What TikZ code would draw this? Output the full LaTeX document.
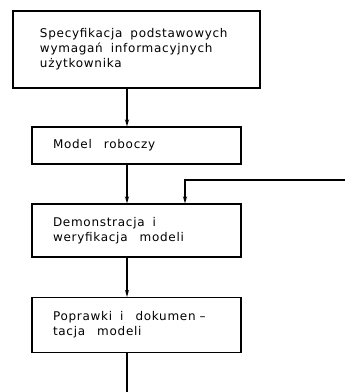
\documentclass[tikz,border=0pt]{standalone}
\usepackage{fontspec}
\setmainfont{DejaVu Sans}[LetterSpace=6]
\usetikzlibrary{arrows.meta}
\hyphenpenalty=10000
\exhyphenpenalty=10000
\hbadness=10000
\hfuzz=50pt
\begin{document}
\begin{tikzpicture}[x=1pt,y=-1pt,
  box/.style={draw,line width=1.2pt,align=left,font=\fontsize{12}{15}\selectfont},
  flow/.style={line width=1.2pt,-{Stealth[length=7pt,width=4pt]}}]
\useasboundingbox (0,0) rectangle (345,392);
\coordinate (col) at (127,0);
\coordinate (fbx) at (185,0);
\coordinate (fb) at (345,180);
\coordinate (out) at (127,392);
\node[box,minimum width=247pt,minimum height=77pt,text width=193pt,inner xsep=27pt] (b1) at (136.5,49.5)
  {Specyfikacja\nobreak\ \nobreak\ podstawowych\\wymagań\ \ informacyjnych\\użytkownika};
\node[box,minimum width=209pt,minimum height=37pt,text width=167pt,inner xsep=21pt] (b2) at (136.5,145.5)
  {Model\ \ \ roboczy};
\node[box,minimum width=209pt,minimum height=53pt,text width=167pt,inner xsep=21pt] (b3) at (136.5,230.5)
  {Demonstracja\ \ i\\weryfikacja\ \ \ modeli};
\node[box,minimum width=209pt,minimum height=55pt,text width=167pt,inner xsep=21pt] (b4) at (136.5,325)
  {Poprawki\ \ i\ \ \ dokumen\ --\\tacja\ \ \ modeli};
\draw[flow] (b1.south -| col) -- (b2.north -| col);
\draw[flow] (b2.south -| col) -- (b3.north -| col);
\draw[flow] (b3.south -| col) -- (b4.north -| col);
\draw[flow] (fb) -| (b3.north -| fbx);
\draw[line width=1.2pt] (b4.south -| col) -- (out);
\end{tikzpicture}
\end{document}
